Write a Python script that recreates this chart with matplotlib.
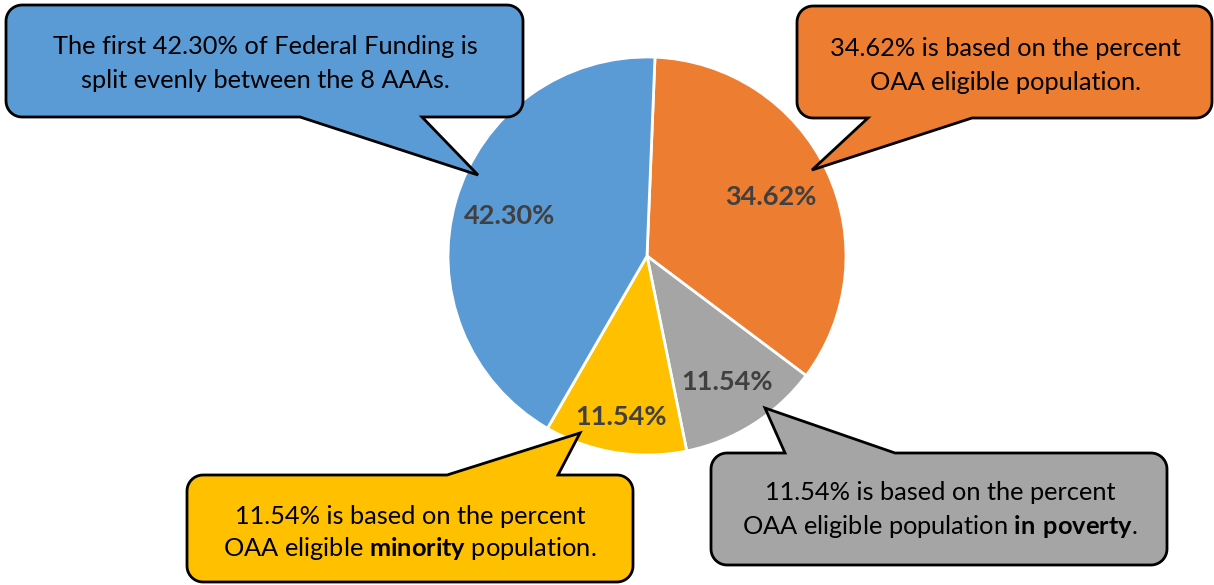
import numpy as np
import matplotlib
matplotlib.use("Agg")
import matplotlib.pyplot as plt
from matplotlib.patches import Polygon

# ---- data ----
slice_names = ["OAA eligible population", "In poverty", "Minority", "Split evenly"]
slice_values = [34.62, 11.54, 11.54, 42.30]
slice_colors = ["#ED7D31", "#A5A5A5", "#FFC000", "#5B9BD5"]

callout_lines = {
    "blue": ["The first 42.30% of Federal Funding is", "split evenly between the 8 AAAs."],
    "orange": ["34.62% is based on the percent", "OAA eligible population."],
    "yellow": ["11.54% is based on the percent", r"OAA eligible $\mathbf{minority}$ population."],
    "gray": ["11.54% is based on the percent", r"OAA eligible population $\mathbf{in\ poverty}$."],
}

plt.rcParams["font.family"] = ["Lato", "DejaVu Sans"]
plt.rcParams["mathtext.fontset"] = "custom"
plt.rcParams["mathtext.rm"] = "Lato"
plt.rcParams["mathtext.bf"] = "Lato:bold"

W, H = 1214, 585
fig = plt.figure(figsize=(W / 100, H / 100), dpi=100)
ax = fig.add_axes([0, 0, 1, 1])

def Y(y):
    return H - y

# ---- pie ----
cx, cy, R = 647, 256, 199
radial = [0.69, 0.75, 0.82, 0.72]
wedges, texts, autotexts = ax.pie(
    slice_values, colors=slice_colors, startangle=87.7, counterclock=False,
    center=(cx, Y(cy)), radius=R, frame=True,
    autopct=lambda p: f"{p:.2f}%", pctdistance=0.72,
    wedgeprops=dict(edgecolor="white", linewidth=2),
    textprops=dict(color="#404040", fontsize=19.5, fontweight="bold"),
)
for w, t, f in zip(wedges, autotexts, radial):
    ang = np.deg2rad((w.theta1 + w.theta2) / 2)
    t.set_position((cx + f * R * np.cos(ang), Y(cy) + f * R * np.sin(ang)))

ax.set_xlim(0, W)
ax.set_ylim(0, H)
ax.set_aspect("equal")
ax.axis("off")

# ---- callouts ----
def arc(ccx, ccy, r, t0, t1, n=12):
    ts = np.deg2rad(np.linspace(t0, t1, n))
    return [(ccx + r * np.cos(t), ccy + r * np.sin(t)) for t in ts]

def callout(x0, y0, x1, y1, side, ta, tb, tip, color, r=16):
    pts = []
    pts += arc(x0 + r, y0 + r, r, 180, 270)
    if side == "top":
        pts += [(ta, y0), tip, (tb, y0)]
    pts += arc(x1 - r, y0 + r, r, 270, 360)
    pts += arc(x1 - r, y1 - r, r, 0, 90)
    if side == "bottom":
        pts += [(tb, y1), tip, (ta, y1)]
    pts += arc(x0 + r, y1 - r, r, 90, 180)
    pts = [(px, Y(py)) for px, py in pts]
    ax.add_patch(Polygon(pts, closed=True, facecolor=color, edgecolor="black",
                         linewidth=2, joinstyle="miter", zorder=5))

def lines(xc, ys, txts):
    for yy, s in zip(ys, txts):
        ax.text(xc, Y(yy), s, ha="center", va="center", fontsize=18.3,
                color="black", zorder=6)

callout(6, 5, 523, 117, "bottom", 300, 422, (478, 175), "#5B9BD5")
lines(265, [47, 80], callout_lines["blue"])

callout(797, 6, 1212, 118, "bottom", 868, 972, (812, 170), "#ED7D31")
lines(1005, [48, 82], callout_lines["orange"])

callout(187, 475, 633, 582, "top", 447, 558, (580, 433), "#FFC000")
lines(410, [516, 549], callout_lines["yellow"])

callout(711, 453, 1167, 565, "top", 785, 895, (765, 408), "#A5A5A5")
lines(940, [493, 527], callout_lines["gray"])

fig.savefig("out.png", dpi=100)
